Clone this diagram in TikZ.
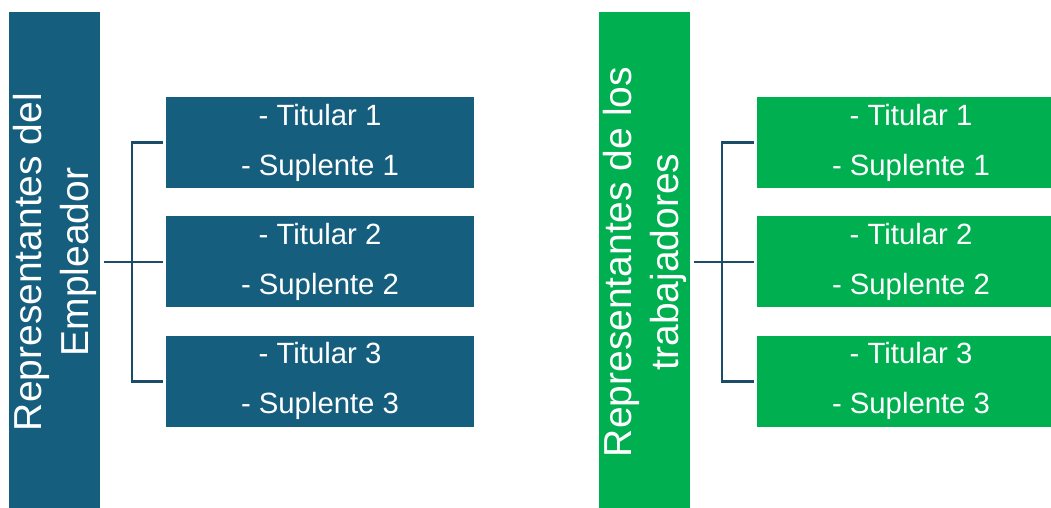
\documentclass[tikz,border=0pt]{standalone}
\usepackage{fontspec}
\setmainfont{Liberation Sans}
\usepackage{xcolor}
\usetikzlibrary{positioning}
\definecolor{empblue}{HTML}{165E7E}
\definecolor{trabgreen}{HTML}{00B050}
\definecolor{connblue}{HTML}{1B4D68}

\begin{document}
\begin{tikzpicture}[x=1pt, y=-1pt]
    \tikzstyle{bar} = [inner sep=0, minimum width=91pt, minimum height=520pt]
    \tikzstyle{bartext} = [rotate=90, text=white, align=center, inner sep=0,
        font=\fontsize{39}{47}\selectfont]
    \tikzstyle{slot} = [inner sep=0, minimum width=308pt, minimum height=91pt,
        text=white, align=center, font=\fontsize{29.3}{50}\selectfont]
    \tikzstyle{conn} = [draw=connblue, line width=2.6pt]
    \useasboundingbox (0,0) rectangle (1051,507);
    % empleador
    \node [bar, fill=empblue] at (54.5,272) (emp) {};
    \node [bartext] at (54.5,262) (emptext) {Representantes del\\Empleador};
    \node [slot, fill=empblue] at (320,142.5) (et1) {- Titular 1\\- Suplente 1};
    \node [slot, fill=empblue, below=28pt of et1] (et2) {- Titular 2\\- Suplente 2};
    \node [slot, fill=empblue, below=28pt of et2] (et3) {- Titular 3\\- Suplente 3};
    % trabajadores
    \node [bar, fill=trabgreen] at (644.5,272) (trab) {};
    \node [bartext] at (644.5,262) (trabtext) {Representantes de los\\trabajadores};
    \node [slot, fill=trabgreen] at (911,142.5) (tt1) {- Titular 1\\- Suplente 1};
    \node [slot, fill=trabgreen, below=28pt of tt1] (tt2) {- Titular 2\\- Suplente 2};
    \node [slot, fill=trabgreen, below=28pt of tt2] (tt3) {- Titular 3\\- Suplente 3};
    % brackets
    \coordinate (ejoin) at (132,262);
    \coordinate (tjoin) at (722,262);
    \draw [conn] ([xshift=4pt]emp.east |- et2.west) -- ([xshift=-3pt]et2.west);
    \draw [conn] ([xshift=-3pt]et1.west) -| (ejoin) |- ([xshift=-3pt]et3.west);
    \draw [conn] ([xshift=4pt]trab.east |- tt2.west) -- ([xshift=-3pt]tt2.west);
    \draw [conn] ([xshift=-3pt]tt1.west) -| (tjoin) |- ([xshift=-3pt]tt3.west);
\end{tikzpicture}
\end{document}
